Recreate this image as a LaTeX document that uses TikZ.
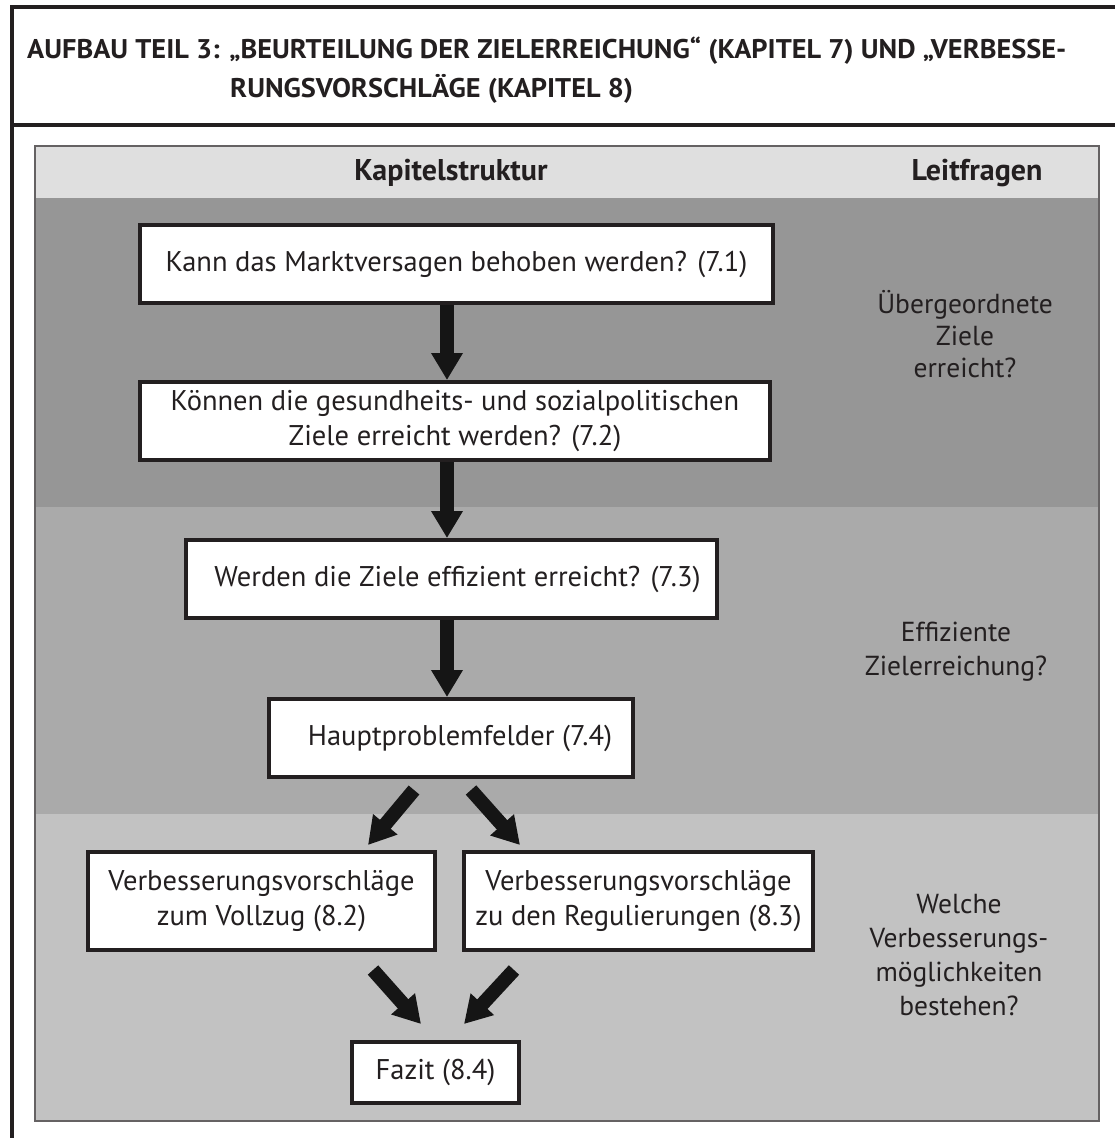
\documentclass[tikz,border=0pt]{standalone}
\usepackage{fontspec}
\setmainfont{PT Sans}
\newfontfamily\titlefont[FakeStretch=1.05]{PT Sans}
\usetikzlibrary{arrows.meta, calc}
\definecolor{ink}{HTML}{231F20}
\definecolor{kopfgrau}{HTML}{DFDFDF}
\definecolor{bandeins}{HTML}{969696}
\definecolor{bandzwei}{HTML}{AAAAAA}
\definecolor{banddrei}{HTML}{C2C2C2}
\definecolor{pfeilink}{HTML}{151515}

\begin{document}
\begin{tikzpicture}[x=1pt, y=-1pt,
  box/.style={draw=ink, line width=4pt, fill=white, align=center, inner sep=0pt,
      text=ink, font=\fontsize{28.5}{35}\selectfont},
  frage/.style={align=center, text=ink, font=\fontsize{27.5}{34}\selectfont},
  kopf/.style={text=ink, font=\fontsize{30}{34}\selectfont\bfseries},
  bigarrow/.style={-{Triangle[width=30pt, length=27pt]}, line width=14pt, draw=pfeilink}]
\useasboundingbox (0,0) rectangle (1114,1138);
\fill[white] (0,0) rectangle (1114,1138);
% Rahmen und Titel
\draw[ink, line width=3.5pt] (1116,7) -- (12,7) -- (12,1140);
\draw[ink, line width=3.5pt] (12,125) -- (1116,125);
\node[anchor=north west, align=left, inner sep=0pt, text=ink,
      font=\titlefont\fontsize{27}{39}\selectfont\bfseries] (titel) at (27,37)
  {AUFBAU TEIL 3: „BEURTEILUNG DER ZIELERREICHUNG“ (KAPITEL 7) UND „VERBESSE-\\
   \hspace*{203pt}RUNGSVORSCHLÄGE (KAPITEL 8)};
% Hintergrund in drei Bändern
\fill[kopfgrau] (35,146) rectangle (1099,198);
\fill[bandeins] (35,198) rectangle (1099,507);
\fill[bandzwei] (35,507) rectangle (1099,814);
\fill[banddrei] (35,814) rectangle (1099,1121);
\draw[ink!70, line width=1.5pt] (35,146) rectangle (1099,1121);
\node[kopf] (struktur) at (451,173) {Kapitelstruktur};
\node[kopf] (leitfragen) at (977,173) {Leitfragen};
% Kapitel
\node[box, minimum width=633, minimum height=78] (k71) at (456.5,264)
  {Kann das Marktversagen behoben werden? (7.1)};
\node[box, minimum width=630, minimum height=78] (k72) at (455,421)
  {Können die gesundheits- und sozialpolitischen\\Ziele erreicht werden? (7.2)};
\node[box, minimum width=531, minimum height=78] (k73) at (451.5,579)
  {\hspace*{12pt}Werden die Ziele effizient erreicht? (7.3)};
\node[box, minimum width=364, minimum height=78] (k74) at (451,738)
  {\hspace*{18pt}Hauptproblemfelder (7.4)};
\node[box, minimum width=347, minimum height=98] (k82) at (261.5,901)
  {Verbesserungsvorschläge\\zum Vollzug (8.2)};
\node[box, minimum width=349, minimum height=98] (k83) at (638.5,901)
  {Verbesserungsvorschläge\\zu den Regulierungen (8.3)};
\node[box, minimum width=167, minimum height=61] (k84) at (435.5,1072.5)
  {Fazit (8.4)};
% Leitfragen
\node[frage, font=\fontsize{27.5}{32}\selectfont] (f1) at (965,334) {Übergeordnete\\Ziele\\erreicht?};
\node[frage] (f2) at (956,652) {Effiziente\\Zielerreichung?};
\node[frage] (f3) at (959,955) {Welche\\Verbesserungs-\\möglichkeiten\\bestehen?};
% Pfeile
\coordinate (achse) at (447,0);
\draw[bigarrow] (k71.south -| achse) -- (k72.north -| achse);
\draw[bigarrow] (k72.south -| achse) -- (k73.north -| achse);
\draw[bigarrow] (k73.south -| achse) -- (k74.north -| achse);
\draw[bigarrow] ($(k74.south)+(-37,11)$) -- ($(k74.south)+(-83,66)$);
\draw[bigarrow] ($(k74.south)+(20,11)$) -- ($(k74.south)+(69,66)$);
\draw[bigarrow] ($(k84.north)+(-62.5,-70)$) -- ($(k84.north)+(-14.5,-16)$);
\draw[bigarrow] ($(k84.north)+(78.5,-70)$) -- ($(k84.north)+(28.5,-16)$);
\end{tikzpicture}
\end{document}
